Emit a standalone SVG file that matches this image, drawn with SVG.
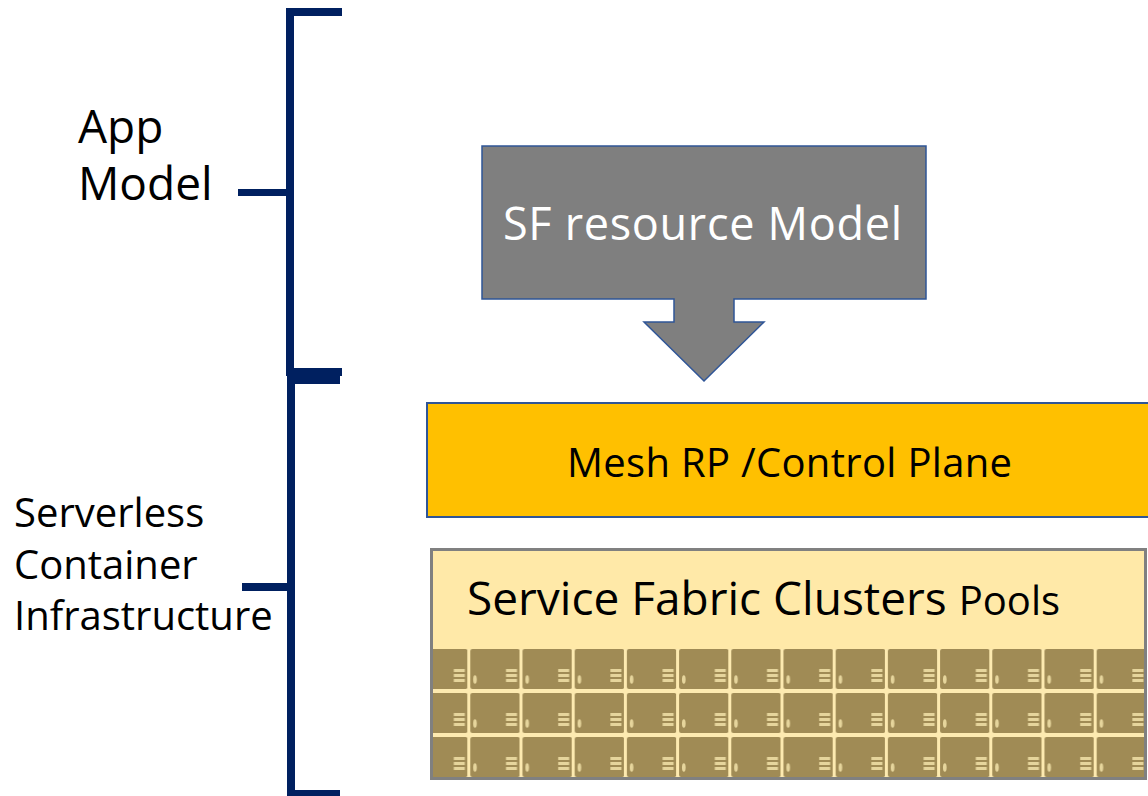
<svg xmlns="http://www.w3.org/2000/svg" width="1148" height="796" viewBox="0 0 1148 796">
  <defs>
    <style>
      .label { font-family: "Open Sans", "Liberation Sans", sans-serif; fill: #000000; }
      .bracket { fill: #002060; }
    </style>
    <!-- one server cell in the cluster-pool rack -->
    <pattern id="rack" patternUnits="userSpaceOnUse" x="415.1" y="646" width="52.2" height="44">
      <rect x="0" y="0" width="52.2" height="44" fill="#fdeab0"/>
      <rect x="3" y="3" width="49.4" height="40" rx="2" fill="#a08b55"/>
      <rect x="38.7" y="23" width="11" height="3" fill="#e6d59c"/>
      <rect x="38.7" y="28" width="11" height="3" fill="#e6d59c"/>
      <rect x="38.7" y="33" width="11" height="3" fill="#e6d59c"/>
      <ellipse cx="7.7" cy="33.5" rx="1.8" ry="4.3" fill="#e6d59c"/>
    </pattern>
  </defs>

  <rect width="1148" height="796" fill="#ffffff"/>

  <!-- layer brackets -->
  <g id="brackets" class="bracket">
    <rect x="286" y="8" width="8" height="368"/>
    <rect x="286" y="8" width="56" height="8"/>
    <rect x="286" y="368" width="56" height="8"/>
    <rect x="238" y="189" width="52" height="7"/>

    <rect x="287" y="376" width="8" height="420"/>
    <rect x="287" y="376" width="53" height="8"/>
    <rect x="287" y="790" width="53" height="6"/>
    <rect x="242" y="583" width="49" height="8"/>
  </g>

  <g id="label-app-model">
    <text class="label" x="78" y="143" font-size="46">App</text>
    <text class="label" x="78" y="200" font-size="46">Model</text>
  </g>

  <g id="label-serverless">
    <text class="label" x="14" y="527" font-size="40">Serverless</text>
    <text class="label" x="14" y="579" font-size="40">Container</text>
    <text class="label" x="14" y="630" font-size="40">Infrastructure</text>
  </g>

  <!-- resource model block with its downward arrow -->
  <g id="sf-resource-model">
    <path d="M482,146 H926 V299 H734 V322 H764 L704,381 L644,322 H674 V299 H482 Z"
          fill="#7f7f7f" stroke="#2f5597" stroke-width="1.5"/>
    <text class="label" x="503" y="240" font-size="45" textLength="399" style="fill:#ffffff">SF resource Model</text>
  </g>

  <g id="mesh-rp">
    <rect x="427" y="403" width="730" height="114" fill="#ffc000" stroke="#2f5597" stroke-width="2"/>
    <text class="label" x="567" y="477" font-size="40" textLength="445">Mesh RP /Control Plane</text>
  </g>

  <g id="sf-clusters-pools">
    <rect x="431.5" y="549.5" width="714" height="229" fill="#ffe9a8" stroke="#808080" stroke-width="3"/>
    <rect x="433" y="649" width="711" height="128" fill="url(#rack)"/>
    <text class="label" x="467" y="615" font-size="46"><tspan>Service Fabric Clusters </tspan><tspan font-size="40">Pools</tspan></text>
  </g>
</svg>
